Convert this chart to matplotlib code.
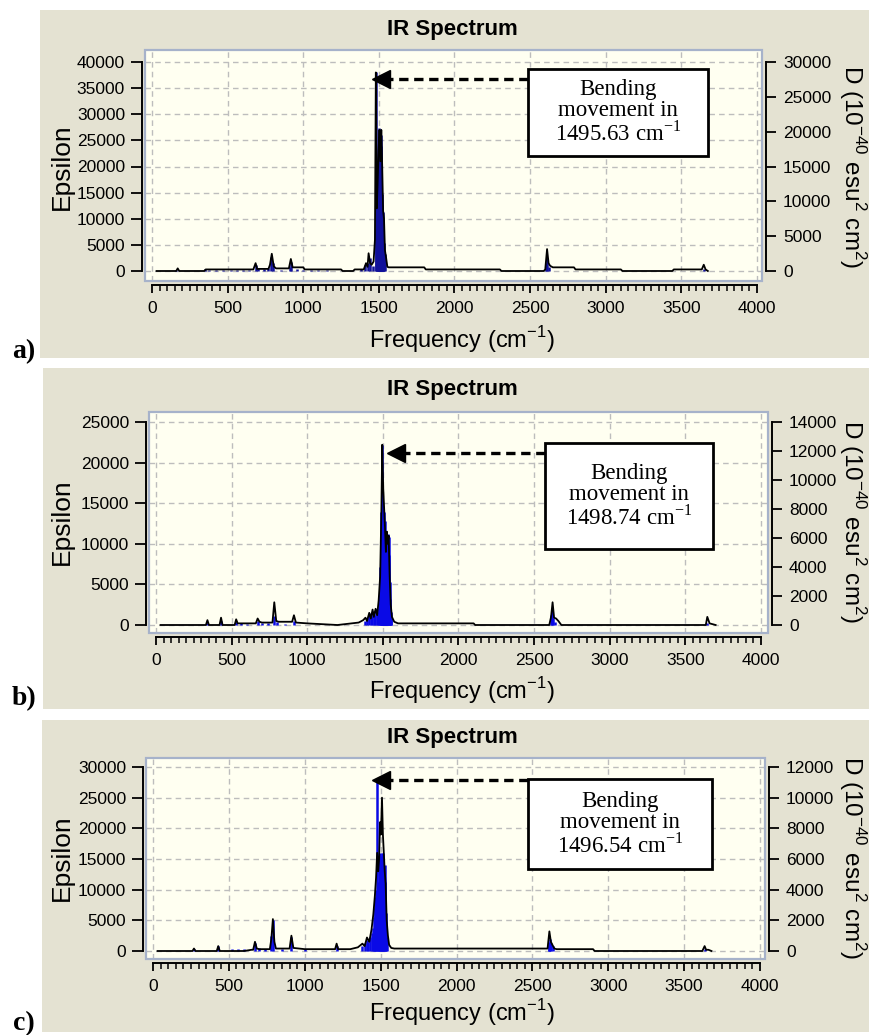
import matplotlib
matplotlib.use("Agg")
import matplotlib.pyplot as plt
from matplotlib.patches import Rectangle
from matplotlib.ticker import MultipleLocator

# ---- data: broadened spectrum (Epsilon) and stick spectrum (D) for each structure ----
env_a_x = [30, 160, 170, 180, 345, 355, 670, 685, 695, 770, 780, 792, 805, 820, 905, 918, 930, 1000,
           1010, 1250, 1260, 1330, 1340, 1400, 1415, 1425, 1432, 1442, 1452, 1465, 1474, 1480, 1486,
           1492, 1498, 1504, 1510, 1516, 1522, 1528, 1534, 1540, 1548, 1556, 1565, 1800, 1810, 2300,
           2310, 2590, 2600, 2612, 2622, 2632, 2650, 2790, 2800, 3100, 3110, 3440, 3450, 3635, 3648,
           3660, 3675]
env_a_y = [0, 0, 500, 0, 0, 300, 300, 1500, 400, 400, 1200, 3300, 900, 500, 500, 2300, 700, 700,
           300, 300, 0, 0, 300, 300, 1500, 800, 3400, 1500, 1200, 1800, 6000, 38000, 12000, 17000,
           23000, 27000, 21000, 27000, 20000, 11500, 10000, 4000, 2500, 800, 700, 700, 300, 300,
           0, 0, 300, 4200, 1500, 1000, 700, 700, 300, 300, 0, 0, 300, 300, 1200, 300, 0]
stick_a_x = [160, 350, 380, 420, 470, 520, 560, 600, 640, 690, 700, 740, 770, 790, 800, 850, 910,
             920, 960, 1000, 1050, 1100, 1160, 1380, 1410, 1425, 1440, 1460, 1478, 1483, 1486, 1489,
             1492, 1495, 1498, 1501, 1503, 1506, 1508, 1511, 1513, 1516, 1518, 1521, 1524, 1527,
             1530, 1535, 1540, 2608, 2614, 2622, 3650]
stick_a_d = [150, 250, 200, 150, 200, 150, 200, 150, 200, 900, 500, 300, 400, 2000, 1200, 200, 600,
             1300, 300, 200, 200, 200, 150, 300, 800, 1100, 1800, 700, 28500, 6000, 9000, 11000,
             13500, 15000, 17500, 19000, 20500, 17000, 15000, 18000, 19500, 14000, 11000, 9500,
             8500, 7000, 6000, 4000, 2500, 1200, 1800, 600, 300]

env_b_x = [30, 330, 340, 350, 420, 430, 440, 520, 530, 540, 660, 672, 684, 700, 770, 782, 795, 810,
           900, 912, 925, 1000, 1200, 1340, 1370, 1385, 1395, 1410, 1420, 1432, 1440, 1452, 1462,
           1472, 1482, 1490, 1496, 1502, 1508, 1514, 1520, 1526, 1532, 1538, 1545, 1552, 1560, 1575,
           1600, 2100, 2110, 2600, 2612, 2622, 2632, 2645, 2660, 2680, 3620, 3635, 3645, 3660, 3700]
env_b_y = [0, 0, 600, 0, 0, 900, 0, 0, 700, 200, 200, 800, 400, 300, 300, 2800, 500, 400, 400, 1200,
           300, 200, 0, 300, 600, 900, 500, 1500, 800, 1900, 1000, 2000, 1200, 3000, 6000, 14000,
           22200, 17000, 14500, 12000, 9000, 11500, 10000, 11000, 6000, 2500, 1000, 400, 200, 200,
           0, 0, 1000, 2800, 900, 800, 500, 0, 0, 0, 1000, 200, 0]
stick_b_x = [340, 430, 530, 560, 600, 672, 700, 740, 782, 800, 850, 912, 1380, 1395, 1410, 1420,
             1430, 1440, 1450, 1458, 1465, 1472, 1478, 1483, 1487, 1490, 1493, 1495, 1497, 1499,
             1502, 1505, 1508, 1511, 1514, 1517, 1520, 1523, 1526, 1529, 1532, 1535, 1538, 1541,
             1544, 1548, 1552, 1556, 2614, 2620, 2628, 2640, 3642]
stick_b_d = [150, 250, 200, 150, 100, 300, 150, 150, 600, 200, 100, 300, 300, 500, 700, 800, 600,
             1000, 700, 1100, 900, 1500, 2500, 4000, 6000, 7800, 7000, 9500, 12400, 8000, 7600,
             6500, 7800, 5000, 7200, 4500, 3500, 5800, 6200, 4000, 5000, 6300, 4800, 6100, 3000,
             1800, 900, 500, 700, 1100, 500, 200, 150]

env_c_x = [30, 260, 270, 280, 420, 430, 440, 600, 650, 660, 672, 684, 700, 770, 780, 790, 800, 810,
           900, 912, 925, 1000, 1200, 1210, 1220, 1300, 1350, 1380, 1395, 1410, 1425, 1440, 1452,
           1462, 1470, 1477, 1484, 1490, 1496, 1502, 1509, 1515, 1521, 1527, 1533, 1540, 1548, 1556,
           1570, 1590, 2600, 2612, 2622, 2632, 2645, 2660, 2900, 2910, 3620, 3635, 3645, 3660, 3680]
env_c_y = [0, 0, 400, 0, 0, 800, 0, 0, 200, 200, 1500, 400, 300, 300, 2000, 5200, 1500, 400, 400,
           2500, 500, 300, 300, 1200, 300, 300, 600, 1200, 800, 2200, 1500, 3500, 6000, 9000, 12000,
           16000, 13000, 15000, 21000, 19000, 25000, 19000, 16000, 13000, 11000, 5000, 2500, 1000,
           500, 400, 400, 3200, 1500, 1000, 400, 300, 300, 0, 0, 800, 200, 200, 0]
stick_c_x = [270, 430, 520, 560, 600, 672, 700, 740, 780, 790, 850, 912, 1000, 1215, 1380, 1395,
             1410, 1420, 1430, 1440, 1448, 1455, 1460, 1465, 1470, 1475, 1480, 1485, 1490, 1494,
             1498, 1502, 1506, 1510, 1514, 1518, 1522, 1526, 1530, 1536, 1542, 2608, 2612, 2618,
             2625, 2635, 3640]
stick_c_d = [100, 300, 150, 150, 100, 500, 200, 150, 1000, 2000, 150, 900, 150, 300, 300, 500, 700,
             600, 900, 1200, 1500, 2200, 2800, 3500, 4000, 11200, 3500, 4500, 6000, 5500, 6400,
             6000, 6400, 6200, 5800, 6400, 5000, 5600, 4500, 2500, 900, 400, 600, 800, 500, 300, 150]

x_ticks = [0, 500, 1000, 1500, 2000, 2500, 3000, 3500, 4000]
eps_max = [40000, 25000, 30000]
d_max = [30000, 14000, 12000]
peak_labels = ["1495.63", "1498.74", "1496.54"]
panel_names = ["a)", "b)", "c)"]

W, H = 870, 1035
beige = "#E4E2D2"
ivory = "#FFFFF1"
PT = 0.72  # points per pixel at 100 dpi

plt.rcParams["font.family"] = ["Liberation Sans", "DejaVu Sans"]

fig = plt.figure(figsize=(W / 100, H / 100), dpi=100)
fig.patch.set_facecolor("white")


def px_box(x0, y0, x1, y1):
    return [x0 / W, 1 - y1 / H, (x1 - x0) / W, (y1 - y0) / H]


# pixel layout of each panel (background, plot box, data anchors, annotation in data units)
layout = [
    dict(bg=(40, 10, 870, 358), box=(145, 50, 762, 281), xp=(152, 757), yp=(271, 62),
         title_y=30, ylab_y=167, xlab_y=340, letter_y=352,
         tip=(1455, 36800), abox=(2486, 22000, 3676, 38600)),
    dict(bg=(43, 368, 870, 709), box=(149, 412, 768, 633), xp=(156, 761), yp=(625, 422),
         title_y=389, ylab_y=522, xlab_y=691, letter_y=699,
         tip=(1527, 21180), abox=(2570, 9400, 3682, 22400)),
    dict(bg=(42, 720, 870, 1032), box=(146, 758, 765, 959), xp=(153, 760), yp=(951, 767),
         title_y=738, ylab_y=858, xlab_y=1013, letter_y=1024,
         tip=(1443, 27880), abox=(2471, 13400, 3684, 28050)),
]
envs = [(env_a_x, env_a_y), (env_b_x, env_b_y), (env_c_x, env_c_y)]
sticks = [(stick_a_x, stick_a_d), (stick_b_x, stick_b_d), (stick_c_x, stick_c_d)]
stick_colors = ["#10109A", "#0A0AE6", "#0A0AE6"]

for i, p in enumerate(layout):
    bx0, by0, bx1, by1 = p["bg"]
    fig.patches.append(Rectangle((bx0 / W, 1 - by1 / H), (bx1 - bx0) / W, (by1 - by0) / H,
                                 transform=fig.transFigure, facecolor=beige, edgecolor="none",
                                 zorder=-10))
    x0, y0, x1, y1 = p["box"]
    ax = fig.add_axes(px_box(x0, y0, x1, y1))
    ax.set_facecolor(ivory)

    # limits so that data anchors land where they are in the picture
    xs = 4000 / (p["xp"][1] - p["xp"][0])
    ax.set_xlim((x0 - p["xp"][0]) * xs, 4000 + (x1 - p["xp"][1]) * xs)
    ys = eps_max[i] / (p["yp"][0] - p["yp"][1])
    ylo = -(y1 - p["yp"][0]) * ys
    yhi = eps_max[i] + (p["yp"][1] - y0) * ys
    ax.set_ylim(ylo, yhi)
    k = d_max[i] / eps_max[i]

    ax.set_xticks(x_ticks)
    ax.xaxis.set_minor_locator(MultipleLocator(50))
    ax.set_yticks(range(0, eps_max[i] + 1, 5000))
    ax.grid(True, which="major", color="#BDBDBD", linestyle=(0, (4, 3)), lw=1)

    for s in ["top", "right"]:
        ax.spines[s].set_visible(False)
    ax.spines["left"].set_position(("outward", 3 * PT))
    ax.spines["left"].set_bounds(0, eps_max[i])
    ax.spines["bottom"].set_position(("outward", 4 * PT))
    ax.spines["bottom"].set_bounds(0, 4000)
    for s in ["left", "bottom"]:
        ax.spines[s].set_linewidth(1.4)
    ax.tick_params(axis="y", which="major", direction="out", length=11 * PT, width=1.3,
                   labelsize=12.5, pad=6 * PT)
    ax.tick_params(axis="x", which="major", direction="out", length=8 * PT, width=1.3,
                   labelsize=12.5, pad=8 * PT)
    ax.tick_params(axis="x", which="minor", direction="out", length=6 * PT, width=1.1)
    ax.add_patch(Rectangle((0, 0), 1, 1, transform=ax.transAxes, fill=False,
                           edgecolor="#A6B2CA", lw=1.6, clip_on=False, zorder=5))

    ax2 = ax.twinx()
    ax2.set_ylim(ylo * k, yhi * k)
    ax2.set_yticks(range(0, d_max[i] + 1, 5000 if d_max[i] == 30000 else 2000))
    for s in ["top", "left", "bottom"]:
        ax2.spines[s].set_visible(False)
    ax2.spines["right"].set_position(("outward", 4 * PT))
    ax2.spines["right"].set_bounds(0, d_max[i])
    ax2.spines["right"].set_linewidth(1.4)
    ax2.tick_params(axis="y", direction="out", length=10 * PT, width=1.3, labelsize=12.5,
                    pad=7 * PT)

    sx, sd = sticks[i]
    ax2.vlines(sx, 0, sd, color=stick_colors[i], lw=1.8, zorder=2)
    ex, ey = envs[i]
    ax2.plot(ex, [v * k for v in ey], color="black", lw=1.3, zorder=3)

    # annotation: dashed arrow + boxed note
    tx, ty = p["tip"]
    bl, bb, br, bt = p["abox"]
    ax2.plot([bl, tx + 80], [ty * k, ty * k], color="black", lw=2.4,
             linestyle=(0, (2.8, 1.7)), zorder=6)
    ax2.plot([tx + 60], [ty * k], marker="<", markersize=13, color="black", zorder=6)
    ax2.add_patch(Rectangle((bl, bb * k), br - bl, (bt - bb) * k, facecolor="white",
                            edgecolor="black", lw=2, zorder=7))
    ax2.text((bl + br) / 2, (bb + bt) / 2 * k,
             "Bending\nmovement in\n" + peak_labels[i] + r" cm$^{\mathregular{-1}}$",
             ha="center", va="center", fontsize=16.5, family="Liberation Serif",
             linespacing=1.0, zorder=8)

    fig.text(452 / W, 1 - p["title_y"] / H, "IR Spectrum", ha="center", va="center",
             fontsize=16, fontweight="bold")
    fig.text(62 / W, 1 - p["ylab_y"] / H, "Epsilon", ha="center", va="center",
             rotation=90, fontsize=19)
    fig.text(462 / W, 1 - p["xlab_y"] / H, r"Frequency (cm$^{\mathregular{-1}}$)",
             ha="center", va="center", fontsize=17)
    fig.text(852 / W, 1 - p["ylab_y"] / H,
             r"D (10$^{\mathregular{-40}}$ esu$^{\mathregular{2}}$ cm$^{\mathregular{2}}$)",
             ha="center", va="center", rotation=270, fontsize=17.5)
    fig.text(24 / W, 1 - p["letter_y"] / H, panel_names[i], ha="center", va="center",
             fontsize=20, fontweight="bold", family="Liberation Serif")

fig.savefig("out.png", dpi=100)
